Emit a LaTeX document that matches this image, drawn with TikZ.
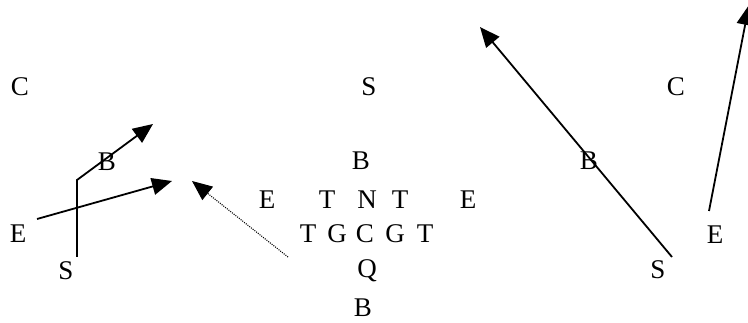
\documentclass[tikz,border=0pt]{standalone}
\usepackage{fontspec}
\setmainfont{Liberation Serif}
\usetikzlibrary{arrows.meta}
\begin{document}
\begin{tikzpicture}[x=1pt,y=-1pt,
  lbl/.style={inner sep=0pt,font=\fontsize{27}{30}\selectfont},
  route/.style={line width=1.8pt,-{Triangle[length=20pt,width=17pt]}},
  dotroute/.style={line width=1.1pt,dash pattern=on 1pt off 1.2pt,-{Triangle[length=20pt,width=17pt]}}]
\useasboundingbox (0,0) rectangle (748,323);
\begin{scope}
\clip (0,0) rectangle (748,323);
% letters
\node[lbl] (c1) at (20,87) {C};
\node[lbl] (s1) at (369,87) {S};
\node[lbl] (c2) at (676,87) {C};
\node[lbl] (bl) at (107,162) {B};
\node[lbl] (bc) at (361,161) {B};
\node[lbl] (br) at (589,161) {B};
\node[lbl] (el) at (18,234) {E};
\node[lbl] (sl) at (66,271) {S};
\node[lbl] (e1) at (267,200) {E};
\node[lbl] (t1) at (327,200) {T};
\node[lbl] (n1) at (367,200) {N};
\node[lbl] (t2) at (400,200) {T};
\node[lbl] (e2) at (468,200) {E};
\node[lbl] (t3) at (308,234) {T};
\node[lbl] (g1) at (337,234) {G};
\node[lbl] (cc) at (365,234) {C};
\node[lbl] (g2) at (395,234) {G};
\node[lbl] (t4) at (425,234) {T};
\node[lbl] (q) at (367,271) {Q};
\node[lbl] (bb) at (363,308) {B};
\node[lbl] (sr) at (658,270) {S};
\node[lbl] (er) at (715,235) {E};
% route points
\coordinate (a0) at (77,257);
\coordinate (a1) at (77,180);
\coordinate (a2) at (153,124);
\coordinate (b0) at (37,219);
\coordinate (b1) at (172,181);
\coordinate (d0) at (288,257);
\coordinate (d1) at (192,181);
\coordinate (r0) at (672,257);
\coordinate (r1) at (480,27);
\coordinate (f0) at (709,211);
\coordinate (f1) at (749,5);
% connectors
\draw[route] (a0) -- (a1) -- (a2);
\draw[route] (b0) -- (b1);
\draw[dotroute] (d0) -- (d1);
\draw[route] (r0) -- (r1);
\draw[route] (f0) -- (f1);
\end{scope}
\end{tikzpicture}
\end{document}
